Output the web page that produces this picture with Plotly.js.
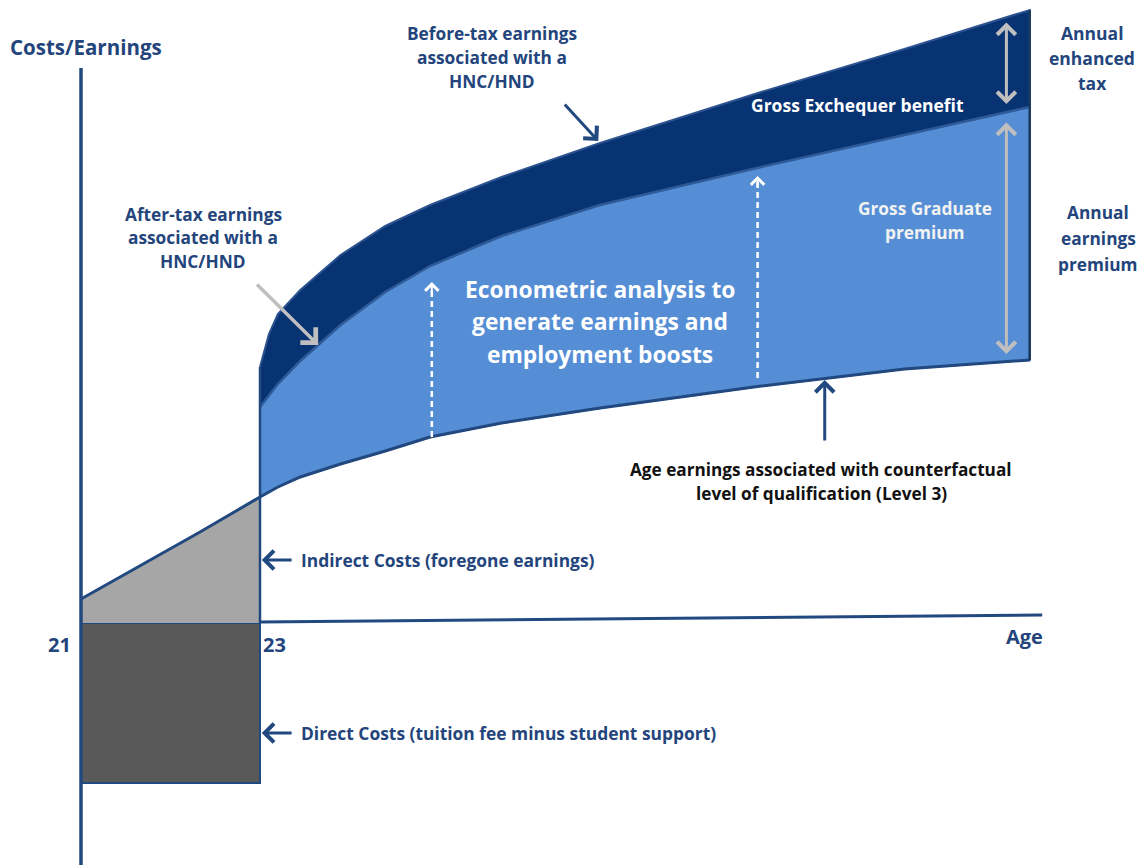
<!DOCTYPE html>
<html>
<head>
<meta charset="utf-8">
<script src="https://cdn.plot.ly/plotly-3.0.1.min.js"></script>
<style>html,body{margin:0;padding:0;background:#fff;}#chart{width:1142px;height:865px;}</style>
</head>
<body>
<div id="chart"></div>
<script>
// ---- data (conceptual units: age in years, earnings in arbitrary units) ----
const studyAges = [21, 21.66, 22.33, 23];
const foregoneEarnings = [2.4, 5.7, 9.1, 12.6];
const directCost = -16.0;

const workAges = [23, 23.1, 23.2, 23.45, 23.9, 24.4, 24.9, 25.7, 26.8, 28.6, 30.2, 31.6];
const beforeTax = [25.6, 28.9, 30.9, 33.3, 36.8, 39.7, 41.8, 44.6, 48.0, 53.1, 57.4, 61.3];
const afterTax = [21.6, 22.8, 23.9, 26.2, 29.8, 33.1, 35.7, 38.7, 41.8, 45.6, 48.8, 51.6];
const counterfactual = [12.6, 13.1, 13.6, 14.6, 15.9, 17.2, 18.6, 20.0, 21.5, 23.7, 25.4, 26.3];

const tickAges = [21, 23];
const tickLabels = ["21", "23"];
const ageAxisEnd = 31.74;
const earningsAxisTop = 55.5;

// ---- styling ----
const W = 1142, H = 865;
const NAVY = '#083373', LIGHT = '#558ed5', GREY = '#a6a6a6', DGREY = '#595959';
const LINE = '#22497f', TXT = '#23457c';
const FONT = '"Open Sans", Lato, sans-serif';
const XR = [20.095, 32.855], YR = [-24.2, 62.3];

const rev = a => a.slice().reverse();
const traces = [];

// direct costs box
traces.push({x:[studyAges[0], studyAges[studyAges.length-1], studyAges[studyAges.length-1], studyAges[0], studyAges[0]],
  y:[0,0,directCost,directCost,0], mode:'lines', fill:'toself', fillcolor:DGREY,
  line:{color:LINE,width:2}, hoverinfo:'skip'});
// indirect costs (foregone earnings)
traces.push({x:studyAges.concat([studyAges[studyAges.length-1], studyAges[0], studyAges[0]]),
  y:foregoneEarnings.concat([0,0,foregoneEarnings[0]]), mode:'lines', fill:'toself', fillcolor:GREY,
  line:{color:'rgba(0,0,0,0)',width:0}, hoverinfo:'skip'});
traces.push({x:studyAges, y:foregoneEarnings, mode:'lines', line:{color:LINE,width:3}, hoverinfo:'skip'});
// exchequer benefit region (before-tax down to counterfactual)
traces.push({x:workAges.concat(rev(workAges)), y:beforeTax.concat(rev(counterfactual)),
  mode:'lines', fill:'toself', fillcolor:NAVY, line:{color:'#2c5290',width:2}, hoverinfo:'skip'});
// graduate premium region (after-tax down to counterfactual)
traces.push({x:workAges.concat(rev(workAges)), y:afterTax.concat(rev(counterfactual)),
  mode:'lines', fill:'toself', fillcolor:LIGHT, line:{color:'rgba(0,0,0,0)',width:0}, hoverinfo:'skip'});
traces.push({x:workAges, y:afterTax, mode:'lines', line:{color:'#2f5a98',width:2.5}, hoverinfo:'skip'});
traces.push({x:workAges, y:counterfactual, mode:'lines', line:{color:LINE,width:3}, hoverinfo:'skip'});
// right edge
const last = workAges.length-1;
traces.push({x:[workAges[last], workAges[last]], y:[beforeTax[last], counterfactual[last]], mode:'lines',
  line:{color:'#17375e',width:2.5}, hoverinfo:'skip'});
// left edge at 23
traces.push({x:[workAges[0], workAges[0]], y:[beforeTax[0], 0], mode:'lines', line:{color:LINE,width:2.5}, hoverinfo:'skip'});
// axes
traces.push({x:[tickAges[0], tickAges[0]], y:[earningsAxisTop, YR[0]], mode:'lines', line:{color:LINE,width:3.5}, hoverinfo:'skip'});
traces.push({x:[tickAges[1], ageAxisEnd], y:[0.1, 0.8], mode:'lines', line:{color:LINE,width:3}, hoverinfo:'skip'});
// dashed boost arrows (shafts)
const boostAges = [24.92, 28.56];
const boostFrom = [18.6, 24.5];
const boostTo = [34.1, 44.7];
boostAges.forEach((a,i)=>traces.push({x:[a,a], y:[boostFrom[i], boostTo[i]-0.3], mode:'lines',
  line:{color:'#ffffff',width:2.5,dash:'6px,4px'}, hoverinfo:'skip'}));

// ---- annotations ----
const ann = [];
function txt(t, px, py, size, color, align){
  ann.push({text:'<b>'+t+'</b>', xref:'paper', yref:'paper', x:px/W, y:1-py/H,
    xanchor:align||'center', yanchor:'middle', showarrow:false,
    font:{family:FONT, size:size, color:color}});
}
function lines(arr, px, py0, gap, size, color){
  arr.forEach((t,i)=>txt(t, px, py0+i*gap, size, color));
}
function arrow(x, y, ax, ay, color, width, both, head, hsize){
  ann.push({x:x, y:y, xref:'x', yref:'y', ax:ax, ay:ay, axref:'x', ayref:'y', text:'',
    showarrow:true, arrowhead:head||4, arrowsize:hsize||1.2, arrowwidth:width, arrowcolor:color,
    arrowside: both ? 'end+start' : 'end', startarrowhead: head||4, startarrowsize:hsize||1.2});
}
txt('Costs/Earnings', 86, 47, 20.5, TXT);
lines(['Before-tax earnings','associated with a','HNC/HND'], 492, 34, 24, 17.3, TXT);
lines(['After-tax earnings','associated with a','HNC/HND'], 203, 214, 24, 17.3, TXT);
txt('Gross Exchequer benefit', 857, 105, 17.5, '#ffffff');
lines(['Annual','enhanced','tax'], 1092, 33, 25, 17.5, TXT);
lines(['Gross Graduate','premium'], 925, 208, 25, 17.3, '#f2f2f2');
lines(['Annual','earnings','premium'], 1098, 213, 25.5, 17.3, TXT);
lines(['Econometric analysis to','generate earnings and','employment boosts'], 600, 289, 33, 22.8, '#ffffff');
lines(['Age earnings associated with counterfactual','level of qualification (Level 3)'], 821, 469, 24, 17.2, '#111111');
txt('Indirect Costs (foregone earnings)', 299, 560, 17.4, TXT, 'left');
txt('Direct Costs (tuition fee minus student support)', 299, 733, 17.4, TXT, 'left');
tickAges.forEach((a,i)=>{
  ann.push({text:'<b>'+tickLabels[i]+'</b>', xref:'x', yref:'y', x:a, y:-2.1,
    xanchor: i===0 ? 'right':'left', xshift: i===0 ? -8 : 1, yanchor:'middle', showarrow:false,
    font:{family:FONT,size:20,color:TXT}});
});
txt('Age', 1024, 636, 20, TXT);

// arrows (head in data coords, tail in data coords)
arrow(26.78, 48.2, 26.39, 52.0, LINE, 3);
arrow(23.65, 27.8, 22.95, 34.0, '#bfbfbf', 3.5);
arrow(29.31, 24.3, 29.31, 18.1, LINE, 3);
arrow(23.02, 6.3, 23.37, 6.3, LINE, 3);
arrow(23.02, -11.0, 23.37, -11.0, LINE, 3);
arrow(31.34, 51.9, 31.34, 60.2, '#bfbfbf', 3, true);
arrow(31.34, 26.9, 31.34, 50.2, '#bfbfbf', 3, true);
boostAges.forEach((a,i)=>arrow(a, boostTo[i], a, boostTo[i]-1.2, '#ffffff', 2, false, 4, 1.3));

const layout = {
  width:W, height:H, autosize:false, margin:{l:0,r:0,t:0,b:0},
  paper_bgcolor:'#ffffff', plot_bgcolor:'#ffffff', showlegend:false,
  xaxis:{range:XR, visible:false, fixedrange:true},
  yaxis:{range:YR, visible:false, fixedrange:true},
  annotations:ann
};
Plotly.newPlot('chart', traces, layout, {displayModeBar:false, staticPlot:true});
</script>
</body>
</html>
